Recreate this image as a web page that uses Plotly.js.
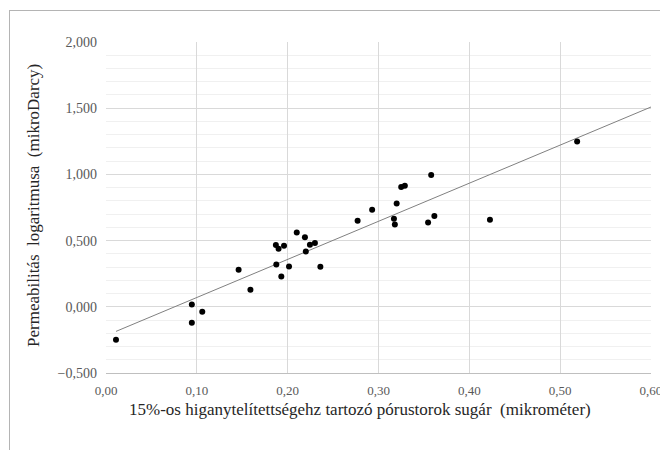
<!DOCTYPE html>
<html>
<head>
<meta charset="utf-8">
<script src="https://cdn.plot.ly/plotly-3.0.1.min.js"></script>
<style>
  html, body { margin: 0; padding: 0; background: #ffffff; }
  #frame { position: absolute; left: 9px; top: 10px; width: 700px; height: 500px;
           border-left: 1px solid #b4b4b4; border-top: 1px solid #b4b4b4; }
  #chart { position: absolute; left: 0; top: 0; width: 660px; height: 450px; }
</style>
</head>
<body>
<div id="frame"></div>
<div id="chart"></div>
<script>
// Pore throat radius at 15% mercury saturation (micrometre)
const radius = [0.011, 0.0945, 0.0945, 0.106, 0.146, 0.159, 0.187, 0.190, 0.196, 0.1875,
                0.193, 0.2015, 0.210, 0.219, 0.2245, 0.230, 0.220, 0.236, 0.277, 0.293,
                0.317, 0.318, 0.320, 0.325, 0.329, 0.358, 0.3546, 0.3615, 0.4227, 0.5187];
// Logarithm of permeability (microDarcy)
const logPerm = [-0.249, 0.017, -0.121, -0.038, 0.279, 0.128, 0.466, 0.438, 0.461, 0.320,
                 0.229, 0.305, 0.561, 0.526, 0.468, 0.481, 0.418, 0.302, 0.650, 0.733,
                 0.665, 0.622, 0.780, 0.904, 0.914, 0.995, 0.637, 0.685, 0.657, 1.249];
const trendEndX = 0.60;
const xTitle = '15%-os higanytelítettségehz tartozó pórustorok sugár  (mikrométer)';
const yTitle = 'Permeabilitás  logaritmusa  (mikroDarcy)';

// least-squares linear trendline
const n = radius.length;
let sx = 0, sy = 0, sxx = 0, sxy = 0;
for (let i = 0; i < n; i++) { sx += radius[i]; sy += logPerm[i]; sxx += radius[i]*radius[i]; sxy += radius[i]*logPerm[i]; }
const slope = (n*sxy - sx*sy) / (n*sxx - sx*sx);
const intercept = (sy - slope*sx) / n;
const xMin = Math.min(...radius);
const trendX = [xMin, trendEndX];
const trendY = trendX.map(x => intercept + slope*x);

const serif = 'Liberation Serif';
const L = 106, R = 9, T = 42, B = 77, W = 660, H = 450;
const pw = W - L - R, ph = H - T - B;

const data = [
  { x: trendX, y: trendY, type: 'scatter', mode: 'lines',
    line: { color: '#808080', width: 1 }, hoverinfo: 'skip', showlegend: false },
  { x: radius, y: logPerm, type: 'scatter', mode: 'markers',
    marker: { color: '#000000', size: 6 }, showlegend: false }
];

const layout = {
  width: W, height: H,
  margin: { l: L, r: R, t: T, b: B },
  paper_bgcolor: 'rgba(0,0,0,0)', plot_bgcolor: '#ffffff',
  separators: ', ',
  font: { family: serif, color: '#595959', size: 13 },
  xaxis: {
    range: [0, 0.60001], dtick: 0.1, tick0: 0, tickformat: '.2f',
    showgrid: true, gridcolor: '#d9d9d9', gridwidth: 1,
    zeroline: false, showline: true, linecolor: '#bfbfbf',
    ticks: '', ticklen: 0, tickfont: { family: serif, size: 13, color: '#595959' },
    ticklabelstandoff: 5,
    ticklabeloverflow: 'allow',
    automargin: false
  },
  yaxis: {
    range: [-0.5, 2.0], dtick: 0.5, tick0: 0, tickformat: '.3f',
    showgrid: true, gridcolor: '#d9d9d9', gridwidth: 1,
    minor: { dtick: 0.1, showgrid: true, gridcolor: '#f0f0f0', gridwidth: 1, ticks: '' },
    zeroline: false, showline: false,
    ticks: '', tickfont: { family: serif, size: 14, color: '#595959' },
    ticklabelstandoff: 8,
    automargin: false
  },
  annotations: [
    { text: xTitle,
      xref: 'paper', yref: 'paper', x: (360 - L) / pw, y: (H - B - 409) / ph,
      xanchor: 'center', yanchor: 'middle', showarrow: false,
      font: { family: serif, size: 17, color: '#262626' } },
    { text: yTitle, textangle: -90,
      xref: 'paper', yref: 'paper', x: (33 - L) / pw, y: (H - B - 206) / ph,
      xanchor: 'center', yanchor: 'middle', showarrow: false,
      font: { family: serif, size: 17, color: '#262626' } }
  ]
};

Plotly.newPlot('chart', data, layout, { displayModeBar: false, staticPlot: true });
</script>
</body>
</html>
